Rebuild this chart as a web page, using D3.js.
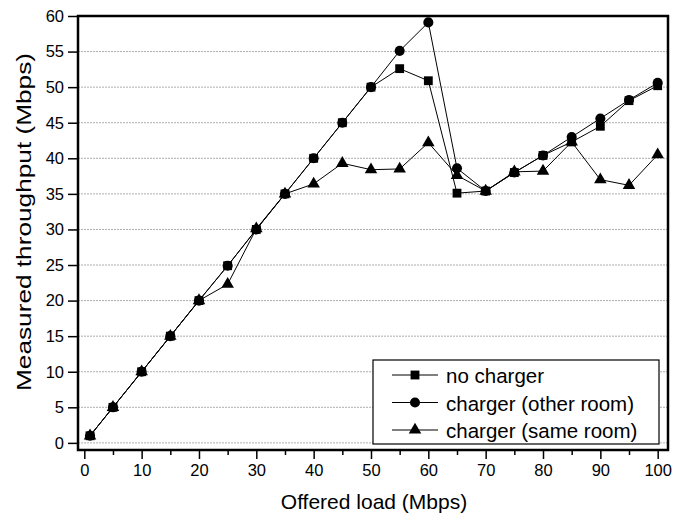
<!DOCTYPE html>
<html>
<head>
<meta charset="utf-8">
<script src="https://cdn.jsdelivr.net/npm/d3@7"></script>
<style>
  body { margin: 0; background: #fff; }
  text { font-family: "Liberation Sans", Arial, sans-serif; fill: #000; }
</style>
</head>
<body>
<div id="chart"></div>
<script>
var offeredLoad = [1, 5, 10, 15, 20, 25, 30, 35, 40, 45, 50, 55, 60, 65, 70, 75, 80, 85, 90, 95, 100]
var noCharger = [1, 5, 10, 15, 20, 24.9, 30, 35, 40, 45, 50, 52.6, 50.9, 35.1, 35.4, 38, 40.4, 42.3, 44.5, 48.1, 50.2]
var otherRoom = [1, 5, 10, 15, 20, 24.9, 30, 35, 40, 45, 50, 55.1, 59.1, 38.6, 35.4, 38, 40.4, 43, 45.6, 48.2, 50.6]
var sameRoom = [1, 5, 10, 15, 20, 22.3, 30.1, 35, 36.4, 39.3, 38.4, 38.5, 42.2, 37.6, 35.4, 38.1, 38.2, 42.3, 37, 36.2, 40.5]
var seriesNames = ['no charger', 'charger (other room)', 'charger (same room)']
var seriesSymbols = ['square', 'circle', 'triangle']
var xTicks = [0, 10, 20, 30, 40, 50, 60, 70, 80, 90, 100]
var xMinorTicks = [5, 15, 25, 35, 45, 55, 65, 75, 85, 95]
var yTicks = [0, 5, 10, 15, 20, 25, 30, 35, 40, 45, 50, 55, 60]

var width = 683
var height = 517
var margin = { top: 16, right: 15, bottom: 67, left: 78 }

var svg = d3.select('#chart').append('svg').attr('width', width).attr('height', height)

var x = d3.scaleLinear().domain([-1.1, 101.8]).range([margin.left, width - margin.right])
var y = d3.scaleLinear().domain([-1, 60]).range([height - margin.bottom, margin.top])

// grid
svg.append('g').selectAll('line')
  .data(yTicks.filter(function(d) { return d < 60 }))
  .enter().append('line')
  .attr('x1', x.range()[0]).attr('x2', x.range()[1])
  .attr('y1', function(d) { return y(d) }).attr('y2', function(d) { return y(d) })
  .style('stroke', '#999').style('stroke-width', 0.8).style('stroke-dasharray', '2,1')

// axes
var xAxis = svg.append('g')
  .attr('transform', 'translate(0,' + y.range()[0] + ')')
  .call(d3.axisBottom(x).tickValues(xTicks).tickSize(9).tickPadding(5).tickSizeOuter(0))
xAxis.select('.domain').remove()
xAxis.selectAll('line').style('stroke-width', 1.5)
xAxis.selectAll('text').style('font-size', '16.5px')

svg.append('g')
  .attr('transform', 'translate(0,' + y.range()[0] + ')')
  .call(d3.axisBottom(x).tickValues(xMinorTicks).tickSize(5).tickFormat('').tickSizeOuter(0))
  .call(function(g) { g.select('.domain').remove() })
  .selectAll('line').style('stroke-width', 1.5)

var yAxis = svg.append('g')
  .attr('transform', 'translate(' + x.range()[0] + ',0)')
  .call(d3.axisLeft(y).tickValues(yTicks).tickSize(10).tickPadding(4).tickSizeOuter(0))
yAxis.select('.domain').remove()
yAxis.selectAll('line').style('stroke-width', 1.5)
yAxis.selectAll('text').style('font-size', '16.5px')

// frame
svg.append('rect')
  .attr('x', x.range()[0]).attr('y', y.range()[1])
  .attr('width', x.range()[1] - x.range()[0]).attr('height', y.range()[0] - y.range()[1])
  .style('fill', 'none').style('stroke', '#000').style('stroke-width', 2.5)

// titles
svg.append('text')
  .attr('x', 374).attr('y', 509)
  .attr('text-anchor', 'middle').style('font-size', '21px')
  .text('Offered load (Mbps)')

svg.append('text')
  .attr('transform', 'translate(31,222) rotate(-90)')
  .attr('text-anchor', 'middle').style('font-size', '21px')
  .attr('textLength', 338).attr('lengthAdjust', 'spacingAndGlyphs')
  .text('Measured throughput (Mbps)')

var symbolFor = function(name) {
  if (name == 'square') return d3.symbol().type(d3.symbolSquare).size(78)()
  if (name == 'circle') return d3.symbol().type(d3.symbolCircle).size(80)()
  return d3.symbol().type(d3.symbolTriangle).size(68)()
}

var line = d3.line()
  .x(function(d) { return x(d[0]) })
  .y(function(d) { return y(d[1]) })

var allSeries = [noCharger, otherRoom, sameRoom]
allSeries.forEach(function(values, i) {
  var pts = offeredLoad.map(function(v, j) { return [v, values[j]] })
  svg.append('path').attr('d', line(pts))
    .style('fill', 'none').style('stroke', '#000').style('stroke-width', 1)
  svg.append('g').selectAll('path').data(pts).enter().append('path')
    .attr('d', symbolFor(seriesSymbols[i]))
    .attr('transform', function(d) { return 'translate(' + x(d[0]) + ',' + y(d[1]) + ')' })
    .style('fill', '#000')
})

// legend
var legend = svg.append('g')
legend.append('rect')
  .attr('x', 373).attr('y', 360).attr('width', 286).attr('height', 84)
  .style('fill', '#fff').style('stroke', '#000').style('stroke-width', 1.2)

seriesNames.forEach(function(name, i) {
  var ly = 375 + i * 27.5
  legend.append('line').attr('x1', 392).attr('x2', 438).attr('y1', ly).attr('y2', ly)
    .style('stroke', '#000').style('stroke-width', 1)
  legend.append('path').attr('d', symbolFor(seriesSymbols[i]))
    .attr('transform', 'translate(415,' + ly + ')').style('fill', '#000')
  legend.append('text').attr('x', 446).attr('y', ly + 8)
    .style('font-size', '20.5px').text(name)
})
</script>
</body>
</html>
